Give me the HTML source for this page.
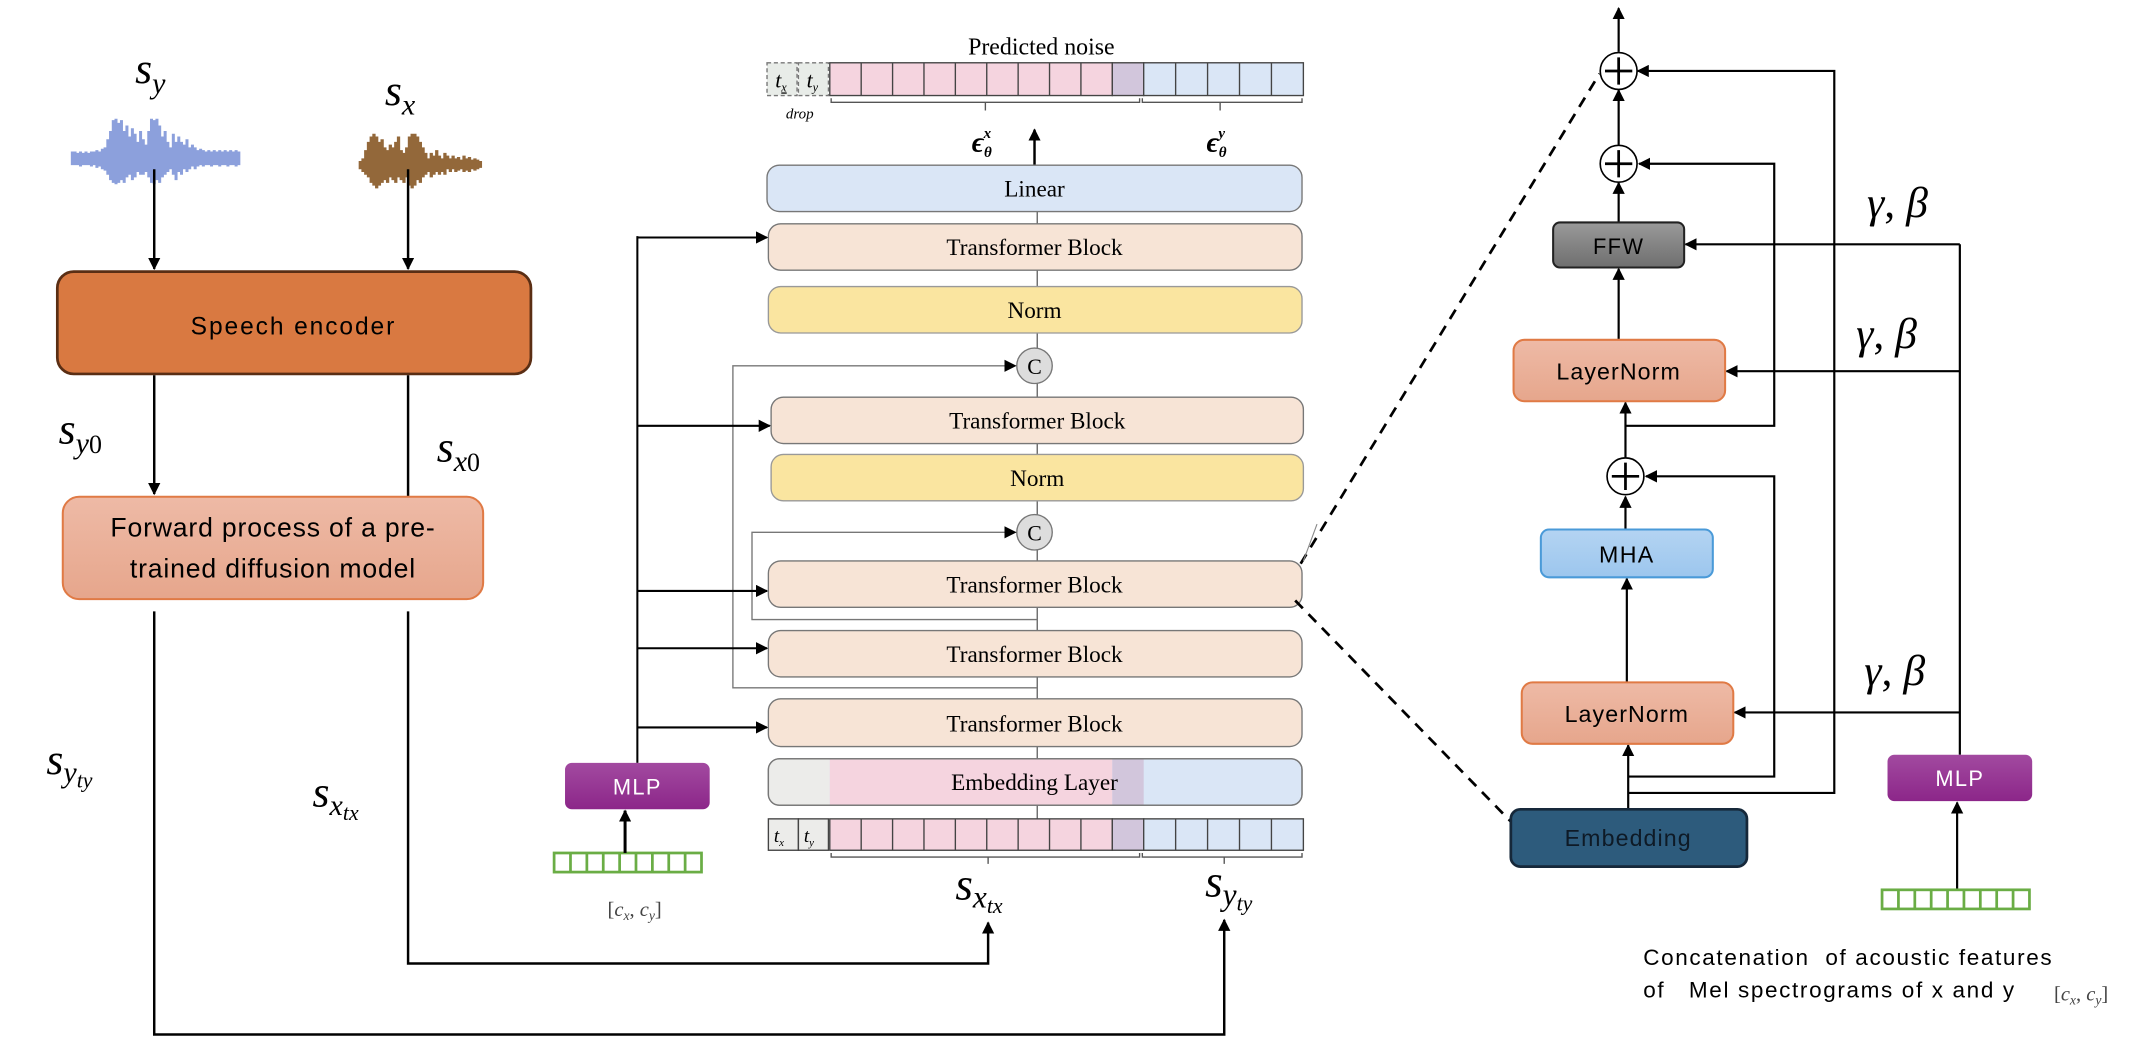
<!DOCTYPE html>
<html><head><meta charset="utf-8"><style>
html,body{margin:0;padding:0;background:#fff;}
svg{display:block;}
.sans{font-family:"Liberation Sans",sans-serif;}
.serif{font-family:"Liberation Serif",serif;}
.m{font-family:"Liberation Serif",serif;font-style:italic;}
.pre{white-space:pre;}
</style></head><body>
<svg width="2140" height="1042" viewBox="0 0 1568 763.5" preserveAspectRatio="none" xmlns="http://www.w3.org/2000/svg">
<defs>
<marker id="a" viewBox="0 0 10 10" refX="9" refY="5" markerWidth="9" markerHeight="9" markerUnits="userSpaceOnUse" orient="auto"><path d="M0,0 L10,5 L0,10 z" fill="#000"/></marker>
<linearGradient id="mlp" x1="0" y1="0" x2="0" y2="1"><stop offset="0" stop-color="#a24aa0"/><stop offset="1" stop-color="#8c2689"/></linearGradient>
<linearGradient id="ffw" x1="0" y1="0" x2="0" y2="1"><stop offset="0" stop-color="#9a9a9a"/><stop offset="1" stop-color="#6e6e6e"/></linearGradient>
<linearGradient id="ln" x1="0" y1="0" x2="0" y2="1"><stop offset="0" stop-color="#eebaa6"/><stop offset="1" stop-color="#e6a68c"/></linearGradient>
<linearGradient id="mha" x1="0" y1="0" x2="0" y2="1"><stop offset="0" stop-color="#b4d4f2"/><stop offset="1" stop-color="#9cc6ee"/></linearGradient>
</defs>

<!-- LEFT -->
<text class="m" x="99" y="61" font-size="32">s<tspan font-size="22" dy="7">y</tspan></text>
<text class="m" x="282" y="77" font-size="32">s<tspan font-size="22" dy="7">x</tspan></text>
<path fill="none" stroke="#8ca0dc" stroke-width="2.2" d="M53,111V121M55,111V121M57,112V121M59,111V122M61,112V121M63,111V121M65,112V121M67,111V122M69,111V121M71,110V123M73,111V122M75,109V124M77,108V125M79,102V128M81,96V132M83,88V134M85,87V135M87,90V134M89,88V132M91,96V134M93,92V130M95,100V128M97,94V132M99,98V130M101,104V126M103,96V128M105,102V128M107,106V126M109,96V130M111,87V134M113,88V135M115,87V132M117,92V134M119,100V130M121,96V128M123,104V126M125,108V124M127,98V128M129,104V132M131,100V126M133,104V128M135,106V124M137,102V126M139,108V124M141,106V122M143,108V124M145,110V122M147,109V121M149,110V122M151,111V121M153,110V121M155,111V122M157,110V121M159,111V121M161,110V122M163,111V121M165,110V121M167,111V122M169,110V121M171,111V121M173,110V122M175,111V121"/>
<path fill="none" stroke="#93683a" stroke-width="2.4" d="M264,118V124M266,116V126M268,110V128M270,104V130M272,100V134M274,98V136M276,100V138M278,104V136M280,102V134M282,108V132M284,110V134M286,106V130M288,108V132M290,104V134M292,100V130M294,110V132M296,112V134M298,108V130M300,100V136M302,98V138M304,98V136M306,100V132M308,104V134M310,108V130M312,112V128M314,116V126M316,112V130M318,114V128M320,110V126M322,114V128M324,116V126M326,112V128M328,114V124M330,116V126M332,114V124M334,116V126M336,115V125M338,117V124M340,114V126M342,116V125M344,115V126M346,117V124M348,116V125M350,117V124M352,118V123"/>
<line x1="113" y1="124" x2="113" y2="197" stroke="#000" stroke-width="1.8" marker-end="url(#a)"/>
<line x1="299" y1="124" x2="299" y2="197" stroke="#000" stroke-width="1.8" marker-end="url(#a)"/>
<rect x="42" y="199" width="347" height="75" rx="12" fill="#d97941" stroke="#5a2e14" stroke-width="2"/>
<text class="sans" x="215" y="245" font-size="18" text-anchor="middle" letter-spacing="1.4">Speech encoder</text>
<line x1="113" y1="275" x2="113" y2="362" stroke="#000" stroke-width="1.8" marker-end="url(#a)"/>
<line x1="299" y1="275" x2="299" y2="364" stroke="#000" stroke-width="1.8"/>
<text class="m" x="43" y="325" font-size="32">s<tspan font-size="22" dy="7">y</tspan><tspan font-size="19" font-style="normal">0</tspan></text>
<text class="m" x="320" y="338" font-size="32">s<tspan font-size="22" dy="7">x</tspan><tspan font-size="19" font-style="normal">0</tspan></text>
<rect x="46" y="364" width="308" height="75" rx="12" fill="url(#ln)" stroke="#e07a45" stroke-width="1.5"/>
<text class="sans" x="200" y="393" font-size="19.5" text-anchor="middle" letter-spacing="0.6">Forward process of a pre-</text>
<text class="sans" x="200" y="423" font-size="19.5" text-anchor="middle" letter-spacing="0.6">trained diffusion model</text>
<text class="m" x="34" y="567" font-size="32">s<tspan font-size="22" dy="6">y</tspan><tspan font-size="16" dy="4">t</tspan><tspan font-size="16">y</tspan></text>
<text class="m" x="229" y="591" font-size="32">s<tspan font-size="22" dy="6">x</tspan><tspan font-size="16" dy="4">t</tspan><tspan font-size="16">x</tspan></text>
<polyline points="113,448 113,758 897,758 897,674" fill="none" stroke="#000" stroke-width="1.8" marker-end="url(#a)"/>
<polyline points="299,448 299,706 724,706 724,676" fill="none" stroke="#000" stroke-width="1.8" marker-end="url(#a)"/>

<!-- MIDDLE -->
<text class="serif" x="763" y="40" font-size="17.5" text-anchor="middle">Predicted noise</text>
<g stroke-width="1">
<rect x="562" y="46" width="22" height="24" fill="#e8ece8" stroke="#777" stroke-dasharray="3,2"/>
<rect x="585" y="46" width="22" height="24" fill="#e8ece8" stroke="#777" stroke-dasharray="3,2"/>
</g>
<text class="m" x="568" y="64" font-size="16">t<tspan font-size="9" dy="3" text-decoration="underline">x</tspan></text>
<text class="m" x="591" y="64" font-size="16">t<tspan font-size="9" dy="3">y</tspan></text>
<text class="m" x="586" y="87" font-size="11" text-anchor="middle">drop</text>
<g stroke="#444" stroke-width="1">
<rect x="608" y="46" width="207" height="24" fill="#f5d4df"/>
<rect x="815" y="46" width="23" height="24" fill="#d2c6dc"/>
<rect x="838" y="46" width="117" height="24" fill="#dae6f6"/>
<path d="M631,46V70M654,46V70M677,46V70M700,46V70M723,46V70M746,46V70M769,46V70M792,46V70M861.4,46V70M884.8,46V70M908.2,46V70M931.6,46V70" fill="none"/>
</g>
<path d="M609,72 v3 h226 v-3 M837,72 v3 h117 v-3 M722,75 v6 M894,75 v6" fill="none" stroke="#555" stroke-width="1"/>
<text class="m" x="712" y="111" font-size="21" font-weight="bold">ϵ<tspan font-size="11" dy="4">θ</tspan><tspan font-size="11" dx="-6" dy="-14">x</tspan></text>
<text class="m" x="884" y="111" font-size="21" font-weight="bold">ϵ<tspan font-size="11" dy="4">θ</tspan><tspan font-size="11" dx="-6" dy="-14">y</tspan></text>
<line x1="758" y1="121" x2="758" y2="95" stroke="#000" stroke-width="1.8" marker-end="url(#a)"/>

<line x1="760" y1="155" x2="760" y2="600" stroke="#666" stroke-width="1"/>
<rect x="562" y="121" width="392" height="34" rx="9" fill="#dae6f6" stroke="#777"/>
<text class="serif" x="758" y="144" font-size="17" text-anchor="middle">Linear</text>
<rect x="563" y="164" width="391" height="34" rx="9" fill="#f7e4d6" stroke="#777"/>
<text class="serif" x="758" y="187" font-size="17" text-anchor="middle">Transformer Block</text>
<rect x="563" y="210" width="391" height="34" rx="9" fill="#fae5a0" stroke="#999"/>
<text class="serif" x="758" y="233" font-size="17" text-anchor="middle">Norm</text>
<circle cx="758" cy="268" r="13" fill="#ddd" stroke="#777"/>
<text class="serif" x="758" y="274" font-size="16" text-anchor="middle">C</text>
<rect x="565" y="291" width="390" height="34" rx="9" fill="#f7e4d6" stroke="#777"/>
<text class="serif" x="760" y="314" font-size="17" text-anchor="middle">Transformer Block</text>
<rect x="565" y="333" width="390" height="34" rx="9" fill="#fae5a0" stroke="#999"/>
<text class="serif" x="760" y="356" font-size="17" text-anchor="middle">Norm</text>
<circle cx="758" cy="390" r="13" fill="#ddd" stroke="#777"/>
<text class="serif" x="758" y="396" font-size="16" text-anchor="middle">C</text>
<rect x="563" y="411" width="391" height="34" rx="9" fill="#f7e4d6" stroke="#777"/>
<text class="serif" x="758" y="434" font-size="17" text-anchor="middle">Transformer Block</text>
<rect x="563" y="462" width="391" height="34" rx="9" fill="#f7e4d6" stroke="#777"/>
<text class="serif" x="758" y="485" font-size="17" text-anchor="middle">Transformer Block</text>
<rect x="563" y="512" width="391" height="35" rx="9" fill="#f7e4d6" stroke="#777"/>
<text class="serif" x="758" y="536" font-size="17" text-anchor="middle">Transformer Block</text>
<rect x="563" y="556" width="391" height="34" rx="8" fill="#dae6f6" stroke="#777"/>
<path d="M571,556 H608 V590 H571 a8,8 0 0 1 -8,-8 V564 a8,8 0 0 1 8,-8z" fill="#ececea"/>
<rect x="608" y="556.5" width="207" height="33" fill="#f5d4df"/>
<rect x="815" y="556.5" width="23" height="33" fill="#d2c6dc"/>
<rect x="563" y="556" width="391" height="34" rx="8" fill="none" stroke="#777"/>
<text class="serif" x="758" y="579" font-size="17" text-anchor="middle">Embedding Layer</text>
<polyline points="760,504 537,504 537,268 744,268" fill="none" stroke="#777" stroke-width="1" marker-end="url(#a)"/>
<polyline points="760,454 551,454 551,390 744,390" fill="none" stroke="#777" stroke-width="1" marker-end="url(#a)"/>
<g stroke="#444" stroke-width="1">
<rect x="563" y="600" width="22" height="23" fill="#ececea"/>
<rect x="585" y="600" width="22" height="23" fill="#ececea"/>
<rect x="608" y="600" width="207" height="23" fill="#f5d4df"/>
<rect x="815" y="600" width="23" height="23" fill="#d2c6dc"/>
<rect x="838" y="600" width="117" height="23" fill="#dae6f6"/>
<path d="M631,600V623M654,600V623M677,600V623M700,600V623M723,600V623M746,600V623M769,600V623M792,600V623M861.4,600V623M884.8,600V623M908.2,600V623M931.6,600V623" fill="none"/>
</g>
<text class="m" x="567" y="617" font-size="14">t<tspan font-size="8" dy="3">x</tspan></text>
<text class="m" x="589" y="617" font-size="14">t<tspan font-size="8" dy="3">y</tspan></text>
<path d="M609,625 v3 h226 v-3 M837,625 v3 h117 v-3 M724,628 v5 M897,628 v5" fill="none" stroke="#555" stroke-width="1"/>
<text class="m" x="700" y="659" font-size="33">s<tspan font-size="23" dy="6">x</tspan><tspan font-size="16" dy="4">t</tspan><tspan font-size="16">x</tspan></text>
<text class="m" x="883" y="657" font-size="33">s<tspan font-size="23" dy="6">y</tspan><tspan font-size="16" dy="4">t</tspan><tspan font-size="16">y</tspan></text>

<line x1="467" y1="173" x2="467" y2="559" stroke="#000" stroke-width="1.5"/>
<g stroke="#000" stroke-width="1.5" marker-end="url(#a)">
<line x1="467" y1="174" x2="562" y2="174"/>
<line x1="467" y1="312" x2="564" y2="312"/>
<line x1="467" y1="433" x2="562" y2="433"/>
<line x1="467" y1="475" x2="562" y2="475"/>
<line x1="467" y1="533" x2="562" y2="533"/>
</g>
<rect x="414" y="559" width="106" height="34" rx="5" fill="url(#mlp)"/>
<text class="sans" x="467" y="582" font-size="16" fill="#fff" text-anchor="middle" letter-spacing="1">MLP</text>
<rect x="406" y="625" width="108" height="14" fill="none" stroke="#6aad45" stroke-width="2"/>
<path d="M418,625v14M430,625v14M442,625v14M454,625v14M466,625v14M478,625v14M490,625v14M502,625v14" stroke="#6aad45" stroke-width="2"/>
<line x1="458" y1="625" x2="458" y2="594" stroke="#000" stroke-width="2.2" marker-end="url(#a)"/>
<text class="m" x="465" y="671" font-size="15" fill="#444" text-anchor="middle"><tspan font-style="normal">[</tspan>c<tspan font-size="10" dy="3">x</tspan><tspan dy="-3" font-style="normal">, </tspan>c<tspan font-size="10" dy="3">y</tspan><tspan dy="-3" font-style="normal">]</tspan></text>

<line x1="953" y1="413" x2="1172" y2="54" stroke="#000" stroke-width="2" stroke-dasharray="8,6"/>
<line x1="949" y1="440" x2="1107" y2="602" stroke="#000" stroke-width="2" stroke-dasharray="8,6"/>
<line x1="955" y1="411" x2="965" y2="384" stroke="#888" stroke-width="0.8"/>

<!-- RIGHT -->
<g stroke="#000" stroke-width="1.6" fill="none" marker-end="url(#a)">
<line x1="1186" y1="38" x2="1186" y2="6"/>
<line x1="1186" y1="106" x2="1186" y2="66"/>
<line x1="1186" y1="163" x2="1186" y2="134"/>
<line x1="1186" y1="249" x2="1186" y2="197"/>
<line x1="1191" y1="335" x2="1191" y2="295"/>
<line x1="1191" y1="388" x2="1191" y2="364"/>
<line x1="1192" y1="500" x2="1192" y2="424"/>
<line x1="1193" y1="593" x2="1193" y2="546"/>
<polyline points="1191,312 1300,312 1300,120 1201,120"/>
<polyline points="1193,569 1300,569 1300,349 1206,349"/>
<polyline points="1193,581 1344,581 1344,52 1200,52"/>
<line x1="1436" y1="179" x2="1235" y2="179"/>
<line x1="1436" y1="272" x2="1265" y2="272"/>
<line x1="1436" y1="522" x2="1271" y2="522"/>
<line x1="1434" y1="651" x2="1434" y2="588"/>
</g>
<line x1="1436" y1="553" x2="1436" y2="179" stroke="#000" stroke-width="1.6"/>
<g fill="#fff" stroke="#000" stroke-width="1.2">
<circle cx="1186" cy="52" r="13.5"/><circle cx="1186" cy="120" r="13.5"/><circle cx="1191" cy="349" r="13.5"/>
</g>
<path d="M1176,52h20M1186,42v20M1176,120h20M1186,110v20M1181,349h20M1191,339v20" stroke="#000" stroke-width="2"/>
<rect x="1138" y="163" width="96" height="33" rx="5" fill="url(#ffw)" stroke="#222" stroke-width="1.5"/>
<text class="sans" x="1186" y="186" font-size="16" text-anchor="middle" letter-spacing="1">FFW</text>
<rect x="1109" y="249" width="155" height="45" rx="8" fill="url(#ln)" stroke="#e07a45" stroke-width="1.5"/>
<text class="sans" x="1186" y="278" font-size="17" text-anchor="middle" letter-spacing="0.8">LayerNorm</text>
<rect x="1129" y="388" width="126" height="35" rx="6" fill="url(#mha)" stroke="#4a9ad8" stroke-width="1.5"/>
<text class="sans" x="1192" y="412" font-size="17" text-anchor="middle" letter-spacing="1">MHA</text>
<rect x="1115" y="500" width="155" height="45" rx="8" fill="url(#ln)" stroke="#e07a45" stroke-width="1.5"/>
<text class="sans" x="1192" y="529" font-size="17" text-anchor="middle" letter-spacing="0.8">LayerNorm</text>
<rect x="1107" y="593" width="173" height="42" rx="7" fill="#2d5b7c" stroke="#16283a" stroke-width="2"/>
<text class="sans" x="1193" y="620" font-size="17" text-anchor="middle" letter-spacing="0.8" fill="#0e1a26">Embedding</text>
<text class="m" x="1368" y="159" font-size="32">γ<tspan font-style="normal">,</tspan> β</text>
<text class="m" x="1360" y="255" font-size="32">γ<tspan font-style="normal">,</tspan> β</text>
<text class="m" x="1366" y="502" font-size="32">γ<tspan font-style="normal">,</tspan> β</text>
<rect x="1383" y="553" width="106" height="34" rx="5" fill="url(#mlp)"/>
<text class="sans" x="1436" y="576" font-size="16" fill="#fff" text-anchor="middle" letter-spacing="1">MLP</text>
<rect x="1379" y="652" width="108" height="14" fill="none" stroke="#6aad45" stroke-width="2"/>
<path d="M1391,652v14M1403,652v14M1415,652v14M1427,652v14M1439,652v14M1451,652v14M1463,652v14M1475,652v14" stroke="#6aad45" stroke-width="2"/>
<text class="sans pre" x="1204" y="707" font-size="16.5" letter-spacing="1.2">Concatenation  of acoustic features</text>
<text class="sans pre" x="1204" y="731" font-size="16.5" letter-spacing="1.2">of   Mel spectrograms of x and y</text>
<text class="m" x="1505" y="733" font-size="15" fill="#444"><tspan font-style="normal">[</tspan>c<tspan font-size="10" dy="3">x</tspan><tspan dy="-3" font-style="normal">, </tspan>c<tspan font-size="10" dy="3">y</tspan><tspan dy="-3" font-style="normal">]</tspan></text>
</svg>
</body></html>
